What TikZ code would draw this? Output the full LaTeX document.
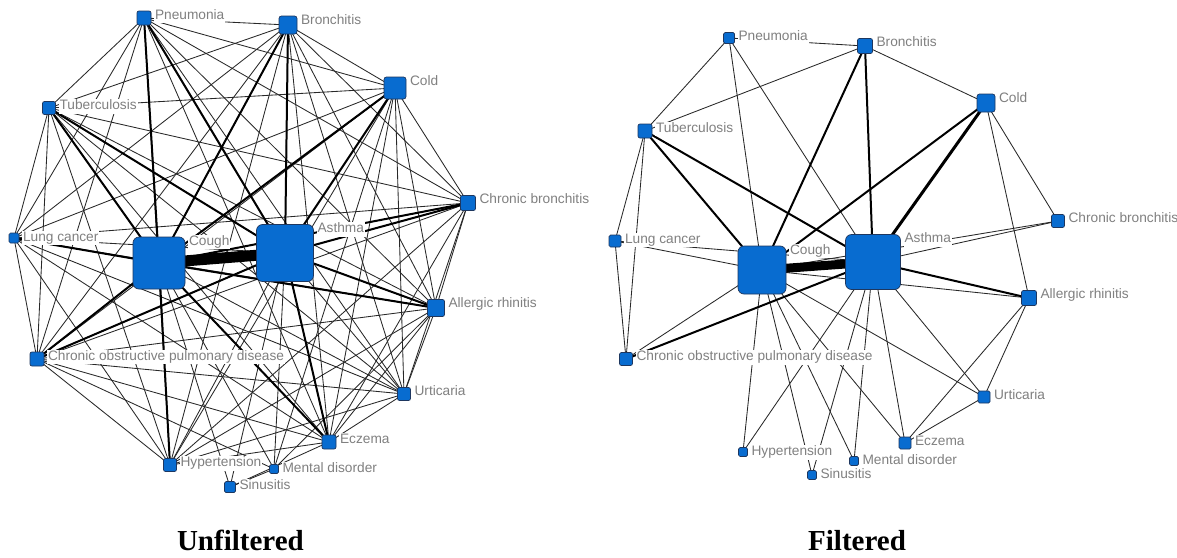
\documentclass[tikz,border=0pt]{standalone}
\usepackage{fontspec}
\setmainfont{Liberation Serif}
\newfontfamily\labfont{Liberation Sans}
\pgfdeclarelayer{bg}
\pgfdeclarelayer{edges}
\pgfdeclarelayer{labels}
\pgfsetlayers{bg,edges,labels,main}
\definecolor{nodeblue}{RGB}{8,108,208}
\definecolor{nodeedge}{RGB}{30,55,95}
\definecolor{labgray}{RGB}{128,128,128}
\definecolor{edgegray}{RGB}{40,40,40}
\tikzset{
  blk/.style={draw=nodeedge, line width=0.7pt, fill=nodeblue, inner sep=0pt, rectangle},
  lab/.style={font=\labfont\fontsize{13.7}{14}\selectfont, text=labgray, fill=white,
    inner xsep=1pt, inner ysep=0.8pt, text height=9.8pt, text depth=2.9pt, anchor=base west},
  thinedge/.style={draw=edgegray, line width=0.85pt},
  midedge/.style={draw=black, line width=2pt},
  heavyedge/.style={draw=black, line width=3pt},
  hugeedge/.style={draw=black, line width=#1},
  titletext/.style={font=\fontsize{29}{32}\selectfont\bfseries, anchor=base}
}
% name, x, y, size, corner radius, label
\newcommand\mkNode[6]{%
  \node[blk, minimum size=#4pt, rounded corners=#5pt] (#1) at (#2,#3) {};
  \begin{pgfonlayer}{labels}
    \node[lab] (#1-lab) at ([xshift=2.5pt,yshift=-8.8pt]#1.north east) {#6};
  \end{pgfonlayer}}
\begin{document}
\begin{tikzpicture}[x=1pt,y=-1pt]
\begin{pgfonlayer}{bg}
  \fill[white] (0,0) rectangle (1177,557);
\end{pgfonlayer}
\useasboundingbox (0,0) rectangle (1177,557);

% ---------------- Unfiltered (left) ----------------
\mkNode{L-Pn}{144}{18}{14}{2}{Pneumonia}
\mkNode{L-Br}{288}{25}{18}{2.5}{Bronchitis}
\mkNode{L-Co}{395}{88}{22}{2.5}{Cold}
\mkNode{L-Tu}{49}{108}{13}{2}{Tuberculosis}
\mkNode{L-CB}{468}{203}{15}{2}{Chronic bronchitis}
\mkNode{L-LC}{14}{238}{10}{1.5}{Lung cancer}
\mkNode{L-Cu}{159}{263}{52}{6}{Cough}
\mkNode{L-As}{285}{253}{57}{6}{Asthma}
\mkNode{L-AR}{436}{308}{17}{2}{Allergic rhinitis}
\mkNode{L-CO}{37}{359}{14}{2}{Chronic obstructive pulmonary disease}
\mkNode{L-Ur}{404}{394}{13}{2}{Urticaria}
\mkNode{L-Ec}{329}{442}{14}{2}{Eczema}
\mkNode{L-Hy}{170}{465}{13}{2}{Hypertension}
\mkNode{L-Me}{274}{469}{9}{1.5}{Mental disorder}
\mkNode{L-Si}{230}{487}{11}{1.5}{Sinusitis}

% ---------------- Filtered (right) ----------------
\mkNode{R-Pn}{729}{38}{11}{1.5}{Pneumonia}
\mkNode{R-Br}{865}{46}{15}{2}{Bronchitis}
\mkNode{R-Co}{986}{103}{18}{2.5}{Cold}
\mkNode{R-Tu}{645}{131}{14}{2}{Tuberculosis}
\mkNode{R-CB}{1058}{221}{13}{2}{Chronic bronchitis}
\mkNode{R-LC}{615}{241}{12}{1.5}{Lung cancer}
\mkNode{R-Cu}{762}{270}{48}{6}{Cough}
\mkNode{R-As}{873}{262}{55}{6}{Asthma}
\mkNode{R-AR}{1029}{298}{15}{2}{Allergic rhinitis}
\mkNode{R-CO}{626}{359}{13}{2}{Chronic obstructive pulmonary disease}
\mkNode{R-Ur}{984}{397}{12}{1.5}{Urticaria}
\mkNode{R-Ec}{905}{443}{12}{1.5}{Eczema}
\mkNode{R-Hy}{743}{452}{9}{1.5}{Hypertension}
\mkNode{R-Me}{854}{461}{9}{1.5}{Mental disorder}
\mkNode{R-Si}{812}{475}{9}{1.5}{Sinusitis}

\begin{pgfonlayer}{edges}
  % left: dense core
  \foreach \a [count=\i] in {Pn,Br,Co,Tu,CB,LC,Cu,As,AR,CO,Ur,Ec,Hy}{
    \foreach \b [count=\j] in {Pn,Br,Co,Tu,CB,LC,Cu,As,AR,CO,Ur,Ec,Hy}{
      \ifnum\j>\i \draw[thinedge] (L-\a.center) -- (L-\b.center);\fi
    }}
  \foreach \a/\b in {Me/Cu,Me/As,Me/AR,Me/Co,Me/CO,Si/Cu,Si/As,Si/Ec,Si/Me}
    \draw[thinedge] (L-\a.center) -- (L-\b.center);
  \foreach \a/\b in {Pn/Cu,Pn/As,Tu/Cu,Tu/As,Br/Cu,Br/As,Co/Cu,Co/As,CB/Cu,CB/As,
                     AR/Cu,AR/As,CO/Cu,CO/As,LC/Cu,Ec/Cu,Ec/As,Hy/Cu}
    \draw[midedge] (L-\a.center) -- (L-\b.center);
  \draw[hugeedge=11pt] (L-Cu.center) -- (L-As.center);

  % right
  \foreach \a/\b in {Pn/Br,Pn/Tu,Pn/Cu,Pn/As,Br/Tu,Br/Co,Co/CB,Co/AR,Tu/LC,Tu/CO,
                     LC/CO,LC/Cu,LC/As,CO/Cu,Cu/Hy,Cu/Si,Cu/Me,Cu/Ec,Cu/Ur,Cu/AR,
                     Cu/CB,As/Hy,As/Si,As/Me,As/Ec,As/Ur,As/CB,AR/Ur,AR/Ec,Ur/Ec}
    \draw[thinedge] (R-\a.center) -- (R-\b.center);
  \foreach \a/\b in {Br/Cu,Br/As,Co/Cu,Tu/Cu,Tu/As,CO/As,As/AR}
    \draw[midedge] (R-\a.center) -- (R-\b.center);
  \draw[heavyedge] (R-Co.center) -- (R-As.center);
  \draw[hugeedge=9pt] (R-Cu.center) -- (R-As.center);
\end{pgfonlayer}

\node[titletext] (t-unf) at (240.4,550) {Unfiltered};
\node[titletext] (t-fil) at (857,550) {Filtered};
\end{tikzpicture}
\end{document}
